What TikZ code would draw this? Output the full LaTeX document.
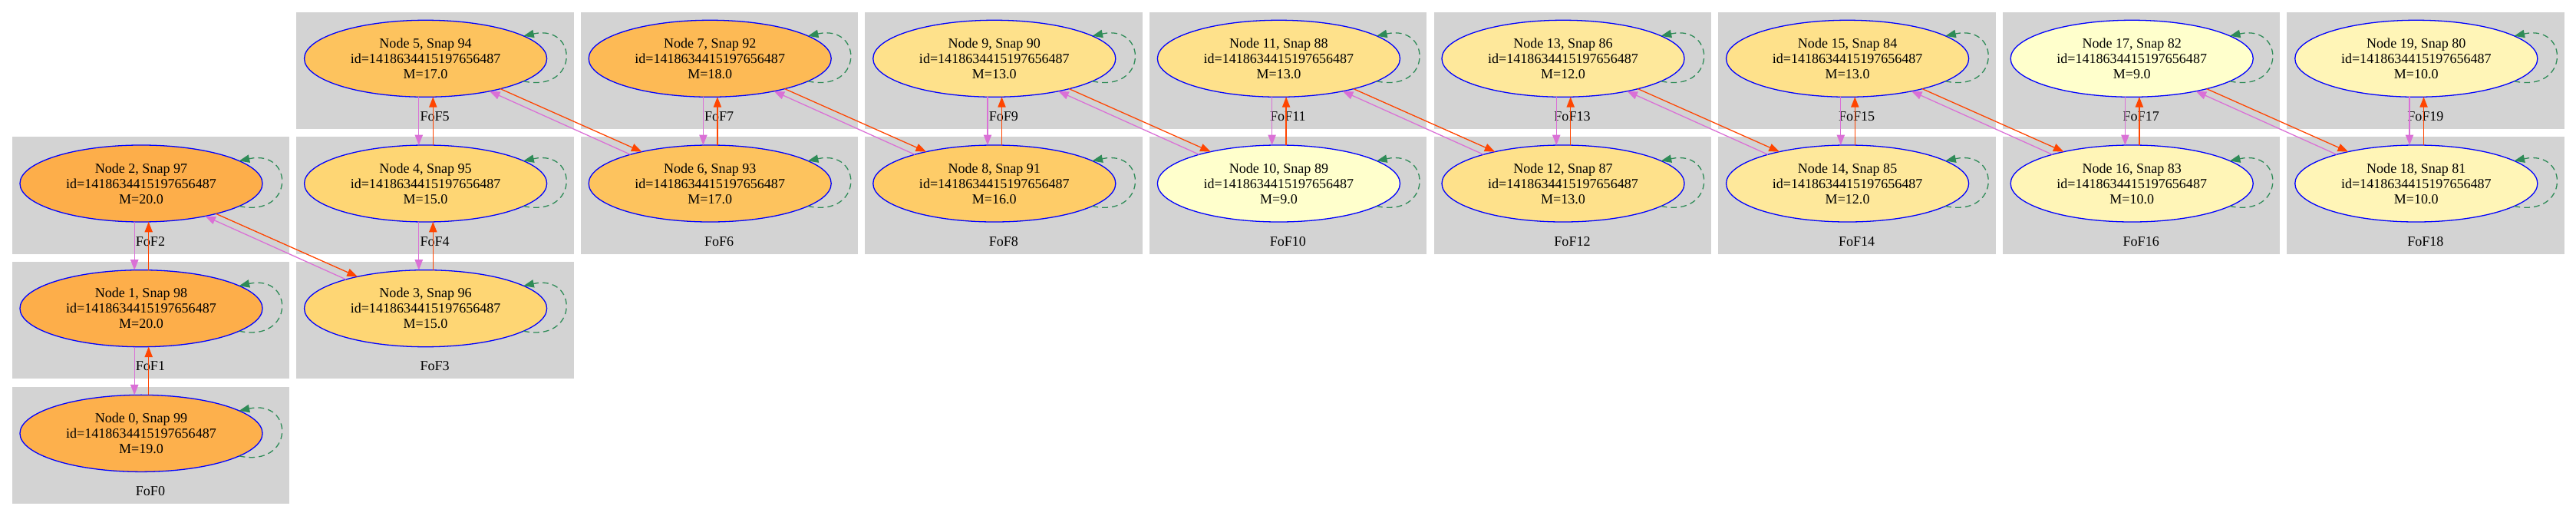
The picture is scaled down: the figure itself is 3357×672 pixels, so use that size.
\documentclass[tikz,border=0pt]{standalone}
\usepackage{fontspec}
\setmainfont{Liberation Serif}
\usepackage{tikz}
\usetikzlibrary{arrows.meta,calc,shapes.geometric}

\definecolor{fofgray}{HTML}{D3D3D3}
\definecolor{orchid}{HTML}{DA70D6}
\definecolor{orangered}{HTML}{FF4500}
\definecolor{seagreen}{HTML}{2E8B57}
\definecolor{mass9}{HTML}{FFFFCC}
\definecolor{mass10}{HTML}{FFF5B7}
\definecolor{mass12}{HTML}{FEE89B}
\definecolor{mass13}{HTML}{FEE18B}
\definecolor{mass15}{HTML}{FED674}
\definecolor{mass16}{HTML}{FECC68}
\definecolor{mass17}{HTML}{FDC35E}
\definecolor{mass18}{HTML}{FDBA55}
\definecolor{mass19}{HTML}{FDB04C}
\definecolor{mass20}{HTML}{FDAE4A}

\begin{document}
\begin{tikzpicture}[x=0.7758pt,y=-0.7758pt,>={Triangle[length=10.5pt,width=8pt]},
		font=\fontsize{14pt}{15.5pt}\selectfont,
		fof/.style={rectangle,fill=fofgray,inner sep=0pt,minimum width=280.4pt,minimum height=118.2pt,anchor=north west},
		halo/.style={ellipse,draw=blue,line width=1pt,inner sep=0pt,outer sep=0pt,minimum width=245.2pt,minimum height=77.6pt,align=center},
		tofuture/.style={->,draw=orangered,line width=1pt},
		topast/.style={->,draw=orchid,line width=1pt},
		selfloop/.style={->,draw=seagreen,line width=1pt,dash pattern=on 6pt off 4pt}]
			\useasboundingbox (0,0) rectangle (3357,672);
			% one FoF box with its halo per snapshot
			\foreach \i/\c/\r/\m in {0/0/3/19,1/0/2/20,2/0/1/20,3/1/2/15,4/1/1/15,5/1/0/17,6/2/1/17,7/2/0/18,
				8/3/1/16,9/3/0/13,10/4/1/9,11/4/0/13,12/5/1/13,13/5/0/12,14/6/1/12,15/6/0/13,
				16/7/1/10,17/7/0/9,18/8/1/10,19/8/0/10}{
				\pgfmathtruncatemacro{\snap}{99-\i}
				\node[fof] (fof_\i) at ({15.3+\c*370.6},{15.3+\r*162.7}) {};
				\node (lab_\i) at ($(fof_\i.north west)+(180.7,136.4)$) {FoF\i};
				\node[halo,fill=mass\m] (n_\i) at ($(fof_\i.north west)+(168.7,61)$) {Node \i, Snap \snap\\id=1418634415197656487\\M=\m.0};
			}
			% links inside a column
			\foreach \a/\b in {0/1,1/2,3/4,4/5,6/7,8/9,10/11,12/13,14/15,16/17,18/19}
				\path (n_\b.-100.2) edge[topast] (n_\a.100.2)
					(n_\a.79.8) edge[tofuture] (n_\b.-79.8);
			% links to the next column
			\foreach \a/\b in {2/3,5/6,7/8,9/10,11/12,13/14,15/16,17/18}
				\path (n_\a.-22.9) edge[tofuture] (n_\b.155.1)
					(n_\b.160.5) edge[topast] (n_\a.-27.8);
			\foreach \i in {0,...,19}
				\draw[selfloop] (n_\i.-13) .. controls ([shift={(200,45)}]n_\i.center) and ([shift={(200,-45)}]n_\i.center) .. (n_\i.13);
		\end{tikzpicture}
\end{document}
